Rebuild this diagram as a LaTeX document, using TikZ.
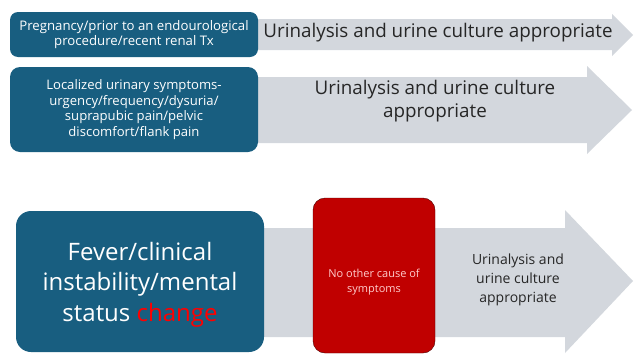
\documentclass[tikz,border=0pt]{standalone}
\usepackage{fontspec}
\setmainfont{Open Sans}
\usetikzlibrary{positioning}
\definecolor{boxblue}{RGB}{24,94,128}
\definecolor{arrowgray}{RGB}{211,215,221}
\definecolor{stopred}{RGB}{192,0,0}

\begin{document}
\begin{tikzpicture}[x=1pt,y=-1pt]
\useasboundingbox (0,0) rectangle (634,359);
% grey arrows behind the boxes
\fill[arrowgray] (258,19) -- (612,19) -- (612,14) -- (633,35) -- (612,56) -- (612,50) -- (258,50) -- cycle;
\fill[arrowgray] (258,77) -- (587,77) -- (587,66) -- (632,110) -- (587,154) -- (587,143) -- (258,143) -- cycle;
\fill[arrowgray] (264,228) -- (565,228) -- (565,210) -- (633,281) -- (565,353) -- (565,337) -- (264,337) -- cycle;
\begin{scope}[every node/.style={fill=boxblue,text=white,align=center,inner sep=0pt}]
    \node[rounded corners=8pt,minimum width=248pt,minimum height=45pt,font=\fontsize{13.2}{15}\selectfont] (preg) at (134,34.5) {Pregnancy/prior to an endourological\\procedure/recent renal Tx};
    \node[rounded corners=10pt,minimum width=248pt,minimum height=85pt,font=\fontsize{13.1}{15.7}\selectfont] (local) at (134,109.5) {Localized urinary symptoms-\\urgency/frequency/dysuria/\\suprapubic pain/pelvic\\discomfort/flank pain};
    \node[rounded corners=15pt,minimum width=248pt,minimum height=141pt] (fever) at (140,281.5) {};
\end{scope}
\node[text=white,align=center,font=\fontsize{24}{30.5}\selectfont] (fevertext) at ([yshift=-3pt]fever.center) {Fever/clinical\\instability/mental\\status \textcolor{red}{change}};
\node[draw=black!70!red,fill=stopred,rounded corners=12pt,minimum width=122pt,minimum height=155pt] (other) at (374,275.5) {};
\node[text=white!80!red,align=center,font=\fontsize{11}{15}\selectfont] (othertext) at ([yshift=-7pt]other.center) {No other cause of\\symptoms};
\begin{scope}[every node/.style={align=center,text=black!85}]
    \node[font=\fontsize{18.8}{21.5}\selectfont] (ua1) at (438,32.5) {Urinalysis and urine culture appropriate};
    \node[font=\fontsize{18.8}{22.5}\selectfont] (ua2) at (435,101) {Urinalysis and urine culture\\appropriate};
    \node[font=\fontsize{14}{19}\selectfont] (ua3) at (518,280) {Urinalysis and\\urine culture\\appropriate};
\end{scope}
\end{tikzpicture}
\end{document}
